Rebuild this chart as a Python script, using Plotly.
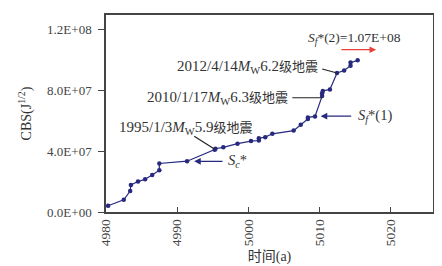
import plotly.graph_objects as go

# Data (time in years, CBS in J^1/2)
years = [4980.3, 4982.5, 4983.4, 4983.5, 4984.5, 4985.5, 4986.5, 4987.5, 4987.5,
         4991.4, 4995.3, 4995.4, 4996.5, 4998.5, 5000.4, 5001.5, 5001.5, 5002.4,
         5003.4, 5006.4, 5007.4, 5008.4, 5008.4, 5009.4, 5010.4, 5010.4, 5010.5,
         5011.5, 5012.5, 5013.5, 5014.4, 5014.4, 5015.4]
cbs_e7 = [0.41, 0.80, 1.38, 1.78, 2.00, 2.15, 2.43, 2.75, 3.19,
          3.34, 4.10, 4.16, 4.25, 4.49, 4.66, 4.70, 4.85, 4.92,
          5.14, 5.35, 5.74, 6.11, 6.22, 6.28, 7.62, 7.80, 7.96,
          8.06, 9.14, 9.30, 9.62, 9.82, 9.97]
cbs = [v * 1e7 for v in cbs_e7]

x_ticks = [4980, 4990, 5000, 5010, 5020]
y_ticks = [0, 4e7, 8e7, 1.2e8]
y_tick_labels = ["0.0E+00", "4.0E+07", "8.0E+07", "1.2E+08"]

FONT = "Liberation Serif, Noto Sans CJK SC, serif"
NAVY = "#27297f"
TXT = "#333333"
LEAD = "#222222"

def quake(date, mag):
    return (f"{date}<i>M</i><sub>W</sub>{mag}"
            f"<span style='font-size:13px'>级地震</span>")

fig = go.Figure()
fig.add_trace(go.Scatter(
    x=years, y=cbs, mode="lines+markers",
    line=dict(color=NAVY, width=1.2),
    marker=dict(color=NAVY, size=4.5),
    showlegend=False,
))

anns = []
# text labels
anns.append(dict(x=5014.9, y=1.138e8, text="<i>S<sub>f</sub></i>*(2)=1.07E+08",
                 showarrow=False, xanchor="center", yanchor="middle",
                 font=dict(size=13.5)))
anns.append(dict(x=5010.1, y=9.56e7, text=quake("2012/4/14", "6.2"),
                 showarrow=False, xanchor="right", yanchor="middle",
                 font=dict(size=15)))
anns.append(dict(x=5005.9, y=7.51e7, text=quake("2010/1/17", "6.3"),
                 showarrow=False, xanchor="right", yanchor="middle",
                 font=dict(size=15)))
anns.append(dict(x=5015.2, y=6.31e7, text="<i>S<sub>f</sub></i>*(1)",
                 showarrow=False, xanchor="left", yanchor="middle",
                 font=dict(size=14.5)))
anns.append(dict(x=4981.6, y=5.53e7, text=quake("1995/1/3", "5.9"),
                 showarrow=False, xanchor="left", yanchor="middle",
                 font=dict(size=15)))
anns.append(dict(x=4996.9, y=3.32e7, text="<i>S<sub>c</sub></i>*",
                 showarrow=False, xanchor="left", yanchor="middle",
                 font=dict(size=14.5)))

# arrows / leader lines: (x_head, y_head, x_tail, y_tail, color, head)
arrows = [
    (5018.0, 1.067e8, 5012.9, 1.067e8, "#e8413a", 2),
    (5012.5, 9.14e7, 5010.2, 9.43e7, LEAD, 0),
    (5010.4, 7.51e7, 5006.0, 7.51e7, LEAD, 0),
    (5010.2, 6.30e7, 5014.7, 6.30e7, NAVY, 2),
    (4995.3, 4.13e7, 4992.2, 5.04e7, LEAD, 0),
    (4992.4, 3.33e7, 4996.6, 3.33e7, NAVY, 2),
]
for xh, yh, xt, yt, col, head in arrows:
    anns.append(dict(x=xh, y=yh, ax=xt, ay=yt, xref="x", yref="y", axref="x", ayref="y",
                     text="", showarrow=True, arrowhead=head, arrowsize=1.1,
                     arrowwidth=1.2, arrowcolor=col, standoff=0, startstandoff=0))

fig.update_layout(
    width=442, height=266,
    margin=dict(l=98, r=17, t=5, b=62),
    paper_bgcolor="white", plot_bgcolor="white",
    font=dict(family=FONT, size=13, color=TXT),
    annotations=anns,
    xaxis=dict(
        range=[4980, 5026], tickvals=x_ticks, ticktext=[str(v) for v in x_ticks],
        tickangle=-90, ticks="inside", ticklen=5, tickcolor="#444",
        showline=True, linecolor="#444", linewidth=1.5, mirror=True,
        showgrid=False, zeroline=False,
        title=dict(text="时间(a)", standoff=6, font=dict(size=14)),
        tickfont=dict(size=13.5, color="#444"),
    ),
    yaxis=dict(
        range=[0, 1.295e8], tickvals=y_ticks, ticktext=y_tick_labels,
        ticks="outside", ticklen=6, tickcolor="#444",
        ticklabelstandoff=4,
        showline=True, linecolor="#444", linewidth=1.5, mirror=True,
        showgrid=False, zeroline=False,
        title=dict(text="CBS(J<sup>1/2</sup>)", standoff=12, font=dict(size=14)),
        tickfont=dict(size=13, color="#444"),
    ),
)

fig.write_html("out.html")
